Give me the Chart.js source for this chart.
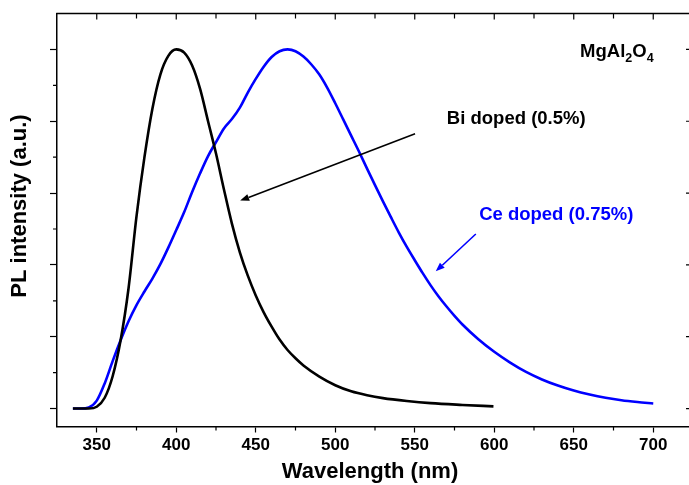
<!DOCTYPE html>
<html>
<head>
<meta charset="utf-8">
<script src="https://cdn.jsdelivr.net/npm/chart.js@4.4.1/dist/chart.umd.min.js"></script>
<style>
  html, body { margin: 0; padding: 0; background: #fff; overflow: hidden; }
  #wrap { width: 689px; height: 485px; overflow: hidden; position: relative; }
  canvas { display: block; }
</style>
</head>
<body>
<div id="wrap"><canvas id="c" width="700" height="485"></canvas></div>
<script>
// ---- Data ----
const biWavelength = [335, 345, 350, 355, 360, 365, 370, 375, 380, 385, 390, 395, 400, 405, 410, 415, 420, 425, 430, 435, 440, 445, 450, 455, 460, 465, 470, 475, 480, 490, 500, 510, 520, 530, 545, 560, 580, 599.5];
const biIntensity  = [0, 0, 0.005, 0.03, 0.09, 0.19, 0.335, 0.535, 0.70, 0.835, 0.93, 0.982, 1.0, 0.991, 0.955, 0.89, 0.80, 0.71, 0.61, 0.515, 0.435, 0.37, 0.315, 0.268, 0.228, 0.192, 0.163, 0.14, 0.12, 0.089, 0.065, 0.048, 0.037, 0.029, 0.021, 0.015, 0.01, 0.006];

const ceWavelength = [335, 340, 345, 350, 355, 360, 365, 370, 375, 380, 385, 390, 395, 400, 405, 410, 415, 420, 425, 430, 435, 440, 445, 450, 455, 460, 465, 470, 475, 480, 485, 490, 495, 500, 505, 510, 515, 520, 525, 530, 535, 540, 545, 550, 555, 560, 565, 570, 575, 580, 590, 600, 610, 620, 630, 640, 650, 660, 670, 680, 690, 700];
const ceIntensity  = [0, 0, 0.003, 0.022, 0.07, 0.132, 0.19, 0.243, 0.288, 0.326, 0.362, 0.402, 0.448, 0.497, 0.547, 0.603, 0.655, 0.703, 0.742, 0.78, 0.806, 0.838, 0.88, 0.918, 0.952, 0.979, 0.995, 1.0, 0.995, 0.98, 0.958, 0.93, 0.893, 0.85, 0.805, 0.76, 0.715, 0.668, 0.622, 0.577, 0.533, 0.49, 0.45, 0.413, 0.377, 0.343, 0.312, 0.284, 0.258, 0.234, 0.193, 0.158, 0.128, 0.102, 0.081, 0.064, 0.05, 0.039, 0.03, 0.023, 0.018, 0.014];

const xMajorTicks = [350, 400, 450, 500, 550, 600, 650, 700];
const xMinorTicks = [375, 425, 475, 525, 575, 625, 675];
const yMajorTicks = [0, 0.2, 0.4, 0.6, 0.8, 1.0];
const yMinorTicks = [0.1, 0.3, 0.5, 0.7, 0.9];

const seriesNames = ['Bi doped (0.5%)', 'Ce doped (0.75%)'];
const xTitle = 'Wavelength (nm)';
const yTitle = 'PL intensity (a.u.)';

// ---- Styling / layout ----
const FONT = "'Liberation Sans', Arial, Helvetica, sans-serif";
const BLUE = '#0000ff';

const annotations = {
  biLabel:  { x: 570.2, y: 0.807 },
  biArrow:  { x1: 550.2, y1: 0.765, x2: 440.2, y2: 0.579 },
  ceLabel:  { x: 590.5, y: 0.54 },
  ceArrow:  { x1: 588.4, y1: 0.486, x2: 563.2, y2: 0.382 },
  title:    { x: 654, y: 0.992 }
};

function toPts(xs, ys) { return xs.map((x, i) => ({ x: x, y: ys[i] })); }

function arrow(ctx, x1, y1, x2, y2, color, lw) {
  ctx.save();
  ctx.strokeStyle = color; ctx.fillStyle = color; ctx.lineWidth = lw;
  const ang = Math.atan2(y2 - y1, x2 - x1);
  const hl = 9, hw = 3.5;
  const bx = x2 - hl * Math.cos(ang), by = y2 - hl * Math.sin(ang);
  ctx.beginPath(); ctx.moveTo(x1, y1); ctx.lineTo(bx, by); ctx.stroke();
  ctx.beginPath();
  ctx.moveTo(x2, y2);
  ctx.lineTo(bx + hw * Math.sin(ang), by - hw * Math.cos(ang));
  ctx.lineTo(bx - hw * Math.sin(ang), by + hw * Math.cos(ang));
  ctx.closePath(); ctx.fill();
  ctx.restore();
}

const framePlugin = {
  id: 'frame',
  afterDraw(chart) {
    const ctx = chart.ctx;
    const a = chart.chartArea;
    const xs = chart.scales.x, ys = chart.scales.y;
    ctx.save();
    ctx.strokeStyle = '#000';
    ctx.lineWidth = 1.5;
    ctx.beginPath();
    ctx.moveTo(a.left - 0.75, a.top); ctx.lineTo(a.right, a.top);
    ctx.moveTo(a.right, a.top); ctx.lineTo(a.right, a.bottom);
    ctx.stroke();
    ctx.lineWidth = 1.2;
    ctx.beginPath();
    xMajorTicks.forEach(v => { const p = xs.getPixelForValue(v); ctx.moveTo(p, a.top); ctx.lineTo(p, a.top + 6); });
    xMinorTicks.forEach(v => { const p = xs.getPixelForValue(v); ctx.moveTo(p, a.top); ctx.lineTo(p, a.top + 5); });
    xMinorTicks.forEach(v => { const p = xs.getPixelForValue(v); ctx.moveTo(p, a.bottom); ctx.lineTo(p, a.bottom + 4); });
    yMinorTicks.forEach(v => { const p = ys.getPixelForValue(v); ctx.moveTo(a.left, p); ctx.lineTo(a.left - 4, p); });
    yMajorTicks.forEach(v => { const p = ys.getPixelForValue(v); ctx.moveTo(a.right, p); ctx.lineTo(a.right - 7, p); });
    ctx.stroke();

    // axis titles
    ctx.fillStyle = '#000';
    ctx.font = 'bold 22px ' + FONT;
    ctx.textAlign = 'center';
    ctx.textBaseline = 'middle';
    ctx.fillText(xTitle, 370, 472);
    ctx.save();
    ctx.translate(20, 206);
    ctx.rotate(-Math.PI / 2);
    ctx.fillText(yTitle, 0, 0);
    ctx.restore();

    // annotations
    const px = v => xs.getPixelForValue(v), py = v => ys.getPixelForValue(v);
    ctx.textBaseline = 'middle';
    ctx.textAlign = 'left';
    ctx.font = 'bold 18.5px ' + FONT;
    ctx.fillStyle = '#000';
    ctx.fillText(seriesNames[0], px(annotations.biLabel.x), py(annotations.biLabel.y));
    ctx.fillStyle = BLUE;
    ctx.fillText(seriesNames[1], px(annotations.ceLabel.x), py(annotations.ceLabel.y));
    const b = annotations.biArrow, c = annotations.ceArrow;
    arrow(ctx, px(b.x1), py(b.y1), px(b.x2), py(b.y2), '#000', 1.6);
    arrow(ctx, px(c.x1), py(c.y1), px(c.x2), py(c.y2), BLUE, 1.6);

    let tx = px(annotations.title.x);
    const ty = py(annotations.title.y);
    ctx.fillStyle = '#000';
    const big = 'bold 18.5px ' + FONT, small = 'bold 12.5px ' + FONT;
    const parts = [['MgAl', big, 0], ['2', small, 6], ['O', big, 0], ['4', small, 6]];
    parts.forEach(([t, f, dy]) => { ctx.font = f; ctx.fillText(t, tx, ty + dy); tx += ctx.measureText(t).width; });
    ctx.restore();
  }
};

new Chart(document.getElementById('c'), {
  type: 'line',
  data: {
    datasets: [
      { label: seriesNames[0], data: toPts(biWavelength, biIntensity), borderColor: '#000', borderWidth: 2.6, pointRadius: 0, fill: false, cubicInterpolationMode: 'monotone' },
      { label: seriesNames[1], data: toPts(ceWavelength, ceIntensity), borderColor: BLUE, borderWidth: 2.6, pointRadius: 0, fill: false, cubicInterpolationMode: 'monotone' }
    ]
  },
  options: {
    responsive: false,
    animation: false,
    devicePixelRatio: 1,
    layout: { padding: { top: 13.5, right: 7, left: 0, bottom: 0 } },
    plugins: { legend: { display: false }, tooltip: { enabled: false } },
    scales: {
      x: {
        type: 'linear', position: 'bottom', min: 325, max: 725,
        afterBuildTicks: s => { s.ticks = xMajorTicks.map(v => ({ value: v })); },
        afterFit: s => { s.height = 58.5; },
        ticks: { color: '#000', font: { family: FONT, size: 17, weight: 'bold' }, padding: 3, maxRotation: 0, autoSkip: false, callback: v => String(v) },
        grid: { display: true, drawOnChartArea: false, drawTicks: true, tickLength: 6, tickWidth: 1.2, tickColor: '#000' },
        border: { display: true, color: '#000', width: 1.5 },
        title: { display: false }
      },
      y: {
        type: 'linear', position: 'left', min: -0.05, max: 1.1,
        afterBuildTicks: s => { s.ticks = yMajorTicks.map(v => ({ value: v })); },
        afterFit: s => { s.width = 57; },
        ticks: { display: true, callback: () => '' },
        grid: { display: true, drawOnChartArea: false, drawTicks: true, tickLength: 7, tickWidth: 1.2, tickColor: '#000' },
        border: { display: true, color: '#000', width: 1.5 },
        title: { display: false }
      }
    }
  },
  plugins: [framePlugin]
});
</script>
</body>
</html>
